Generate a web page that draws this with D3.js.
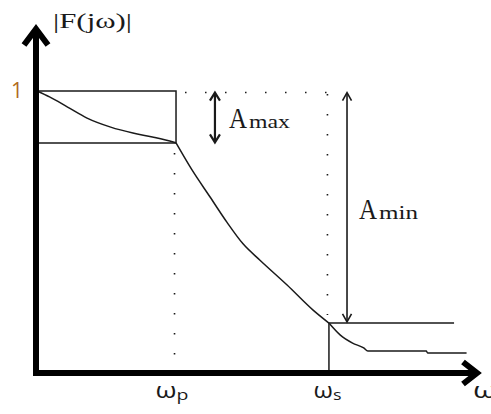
<!DOCTYPE html>
<html>
<head>
<meta charset="utf-8">
<script src="https://cdn.jsdelivr.net/npm/d3@7"></script>
<style>
  body { margin: 0; background: #fff; }
  svg { display: block; }
</style>
</head>
<body>
<svg id="chart" width="491" height="414"></svg>
<script>
// Low-pass magnitude response |F(jω)| with its tolerance scheme

// Passband segment of the response (ω normalised so that ωp = 1)
const passOmega = [0, 0.09, 0.22, 0.36, 0.53, 0.69, 0.83, 0.98, 1.0];
const passMag   = [1.0, 0.979, 0.943, 0.904, 0.872, 0.851, 0.837, 0.819, 0.816];

// Transition band, from ωp to ωs
const transOmega = [1.0, 1.115, 1.245, 1.367, 1.482, 1.604, 1.799, 1.986, 2.1];
const transMag   = [0.816, 0.720, 0.624, 0.534, 0.458, 0.400, 0.312, 0.223, 0.177];

// Stopband tail
const stopOmega = [2.1, 2.18, 2.27, 2.35, 2.38, 2.80, 2.81, 3.09];
const stopMag   = [0.177, 0.135, 0.106, 0.089, 0.078, 0.078, 0.071, 0.071];

// Tolerance scheme
const omegaP = 1.0;
const omegaS = 2.1;
const omegaEnd = 3.165;
const passLower = 0.816;
const stopUpper = 0.177;
const stopEdgeEnd = 3.0;
const aMaxOmega = 1.28;
const aMinOmega = 2.23;

// Tick labels
const yTickValues = [1];
const yTickLabels = ["1"];
const xTickValues = [omegaP, omegaS];
const xTickMain = ["ω", "ω"];
const xTickSub = ["p", "s"];
const xAxisName = "ω";
const yAxisName = "|F(jω)|";

const svg = d3.select("#chart");
const ink = "#1a1a1a";

const x = d3.scaleLinear().domain([0, omegaEnd]).range([37, 477]);
const y = d3.scaleLinear().domain([0, 1]).range([373, 91]);

const toPts = (xs, ys) => xs.map((w, i) => [w, ys[i]]);
const line = d3.line().x(d => x(d[0])).y(d => y(d[1]));

// Dotted guides
const dots = "1.5 18.5";
svg.append("line")
  .attr("x1", x(omegaP) + 9).attr("x2", x(omegaS))
  .attr("y1", y(1) + 1.5).attr("y2", y(1) + 1.5)
  .attr("stroke", ink).attr("stroke-width", 1.6).attr("stroke-dasharray", dots);
svg.append("line")
  .attr("x1", x(omegaP) - 1.5).attr("x2", x(omegaP) - 1.5)
  .attr("y1", y(passLower) + 10).attr("y2", y(0) + 2)
  .attr("stroke", ink).attr("stroke-width", 1.6).attr("stroke-dasharray", dots);
svg.append("line")
  .attr("x1", x(omegaS) - 1.5).attr("x2", x(omegaS) - 1.5)
  .attr("y1", y(1) + 3).attr("y2", y(stopUpper) - 8)
  .attr("stroke", ink).attr("stroke-width", 1.6).attr("stroke-dasharray", dots);

// Passband box
svg.append("path")
  .attr("d", line([[0, 1], [omegaP, 1], [omegaP, passLower], [0, passLower]]))
  .attr("fill", "none").attr("stroke", ink).attr("stroke-width", 1.5);

// Stopband edge
svg.append("path")
  .attr("d", line([[omegaS, 0], [omegaS, stopUpper], [stopEdgeEnd, stopUpper]]))
  .attr("fill", "none").attr("stroke", ink).attr("stroke-width", 1.5);

// Response curve
const curve = d3.line().x(d => x(d[0])).y(d => y(d[1])).curve(d3.curveMonotoneX);
[toPts(passOmega, passMag), toPts(transOmega, transMag), toPts(stopOmega, stopMag)]
  .forEach(seg => {
    svg.append("path").attr("d", curve(seg))
      .attr("fill", "none").attr("stroke", ink).attr("stroke-width", 1.5);
  });

// Double-headed arrows for Amax and Amin
function dblArrow(w, top, bottom, sw, hw, hh) {
  const cx = x(w), y1 = y(top), y2 = y(bottom);
  const g = svg.append("g").attr("fill", "none").attr("stroke", ink)
    .attr("stroke-width", sw).attr("stroke-linejoin", "miter");
  g.append("line").attr("x1", cx).attr("x2", cx).attr("y1", y1 + 1).attr("y2", y2 - 1);
  g.append("path").attr("d", `M${cx - hw},${y1 + hh} L${cx},${y1} L${cx + hw},${y1 + hh}`);
  g.append("path").attr("d", `M${cx - hw},${y2 - hh} L${cx},${y2} L${cx + hw},${y2 - hh}`);
}
dblArrow(aMaxOmega, 0.994, 0.818, 2.2, 5, 8);
dblArrow(aMinOmega, 0.994, stopUpper + 0.004, 1.6, 4.5, 8);

// Amax / Amin labels
function aLabel(px, baseline, sub, subLen) {
  svg.append("text").attr("x", px).attr("y", baseline)
    .attr("font-family", "'Liberation Serif', serif").attr("font-size", 29)
    .attr("textLength", 18).attr("lengthAdjust", "spacingAndGlyphs")
    .attr("fill", ink).text("A");
  svg.append("text").attr("x", px + 20).attr("y", baseline)
    .attr("font-family", "'Liberation Serif', serif").attr("font-size", 19)
    .attr("textLength", subLen).attr("lengthAdjust", "spacingAndGlyphs")
    .attr("fill", ink).text(sub);
}
aLabel(x(aMaxOmega) + 14, y(passLower) - 15, "max", 41);
aLabel(x(aMinOmega) + 12, 219, "min", 39);

// Axes (ticks only; the axis lines are drawn as heavy arrows)
const yAxis = svg.append("g").attr("transform", `translate(${x(0)},0)`)
  .call(d3.axisLeft(y).tickValues(yTickValues).tickFormat((d, i) => yTickLabels[i])
    .tickSize(0).tickPadding(14));
yAxis.select(".domain").remove();
yAxis.selectAll("text").attr("font-family", "'Open Sans', sans-serif")
  .attr("font-size", 21).attr("fill", "#b06a1c").attr("dy", "0.33em");

const xAxis = svg.append("g").attr("transform", `translate(0,${y(0)})`)
  .call(d3.axisBottom(x).tickValues(xTickValues).tickFormat("").tickSize(0));
xAxis.select(".domain").remove();
xAxis.selectAll(".tick").each(function (d, i) {
  const t = d3.select(this).append("text")
    .attr("x", i === 0 ? -21 : -16).attr("y", 25)
    .attr("font-family", "'Open Sans', sans-serif").attr("fill", ink)
    .attr("text-anchor", "start")
    .attr("textLength", i === 0 ? 33 : 28).attr("lengthAdjust", "spacingAndGlyphs");
  t.append("tspan").attr("font-size", 21).text(xTickMain[i]);
  t.append("tspan").attr("font-size", 15).attr("dy", 2).text(xTickSub[i]);
});

// Heavy axis lines with open arrowheads
const axisG = svg.append("g").attr("fill", "none").attr("stroke", "#000")
  .attr("stroke-width", 6).attr("stroke-linejoin", "miter").attr("stroke-linecap", "butt");
axisG.append("path").attr("d", `M${x(0) - 1},${y(0) + 3} L${x(0) - 1},${y(1) - 60}`);
axisG.append("path").attr("d", `M${x(0) - 4},${y(0)} L${x(omegaEnd) - 2},${y(0)}`);
axisG.append("path").attr("d",
  `M${x(0) - 13},${y(1) - 46} L${x(0) - 1},${y(1) - 62} L${x(0) + 11},${y(1) - 46}`);
axisG.append("path").attr("d",
  `M${x(omegaEnd) - 14},${y(0) - 11} L${x(omegaEnd)},${y(0)} L${x(omegaEnd) - 14},${y(0) + 11}`);

// Axis names
svg.append("text").attr("x", 53).attr("y", 28)
  .attr("font-family", "'Liberation Serif', serif").attr("font-size", 20)
  .attr("textLength", 79).attr("lengthAdjust", "spacingAndGlyphs")
  .attr("fill", ink).text(yAxisName);
svg.append("text").attr("x", x(omegaEnd) - 4).attr("y", y(0) + 25)
  .attr("font-family", "'Open Sans', sans-serif").attr("font-size", 21)
  .attr("textLength", 24).attr("lengthAdjust", "spacingAndGlyphs")
  .attr("fill", ink).text(xAxisName);
</script>
</body>
</html>
